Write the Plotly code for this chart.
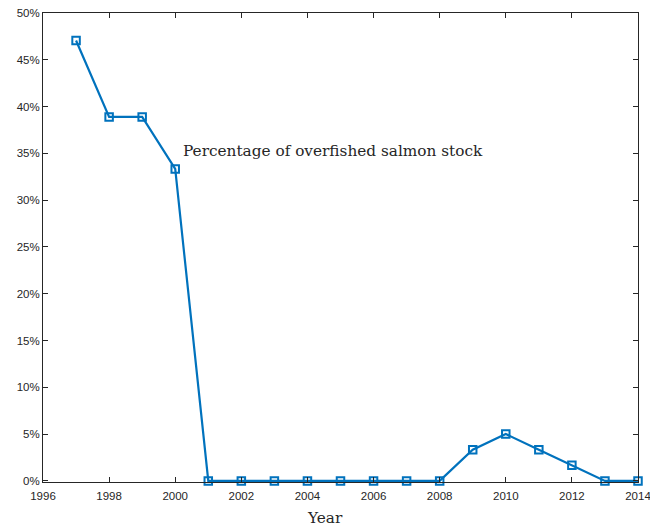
import plotly.graph_objects as go

years = list(range(1997, 2015))
pct = [47.06, 38.89, 38.89, 33.33, 0, 0, 0, 0, 0, 0, 0, 0, 3.33, 5.0, 3.33, 1.67, 0, 0]
x_ticks = list(range(1996, 2015, 2))
y_ticks = list(range(0, 51, 5))
y_tick_labels = [f"{v}%" for v in y_ticks]
label_text = "Percentage of overfished salmon stock"
x_title = "Year"

fig = go.Figure()
fig.add_trace(go.Scatter(
    x=years, y=pct, mode="lines+markers", cliponaxis=False,
    line=dict(color="#0072BD", width=2.2),
    marker=dict(symbol="square-open", size=7.5, color="#0072BD", line=dict(width=2, color="#0072BD")),
    showlegend=False,
))

axis_common = dict(
    showline=True, linecolor="#262626", linewidth=1, mirror="allticks",
    ticks="inside", ticklen=5, tickcolor="#262626", tickwidth=1,
    showgrid=False, zeroline=False, automargin=False, ticklabeloverflow="allow",
    tickfont=dict(family="Liberation Sans, Arial", size=11.5, color="#262626"),
)

fig.update_xaxes(range=[1996, 2014], tickvals=x_ticks, ticktext=[str(v) for v in x_ticks],
                 ticklabelstandoff=3, **axis_common)
fig.update_yaxes(range=[-0.12, 50], tickvals=y_ticks, ticktext=y_tick_labels, **axis_common)

fig.add_annotation(x=2000.17, y=35.2, xref="x", yref="y", text=label_text, showarrow=False,
                   xanchor="left", yanchor="middle",
                   font=dict(family="DejaVu Serif, Liberation Serif", size=15.3, color="#262626"))
fig.add_annotation(x=0.474, y=0, xref="paper", yref="paper", yshift=-36, text=x_title, showarrow=False,
                   xanchor="center", yanchor="middle",
                   font=dict(family="DejaVu Serif, Liberation Serif", size=15.3, color="#262626"))

fig.update_layout(width=650, height=529, margin=dict(l=43, r=12, t=13, b=47),
                  plot_bgcolor="white", paper_bgcolor="white")
fig.write_html("out.html")
